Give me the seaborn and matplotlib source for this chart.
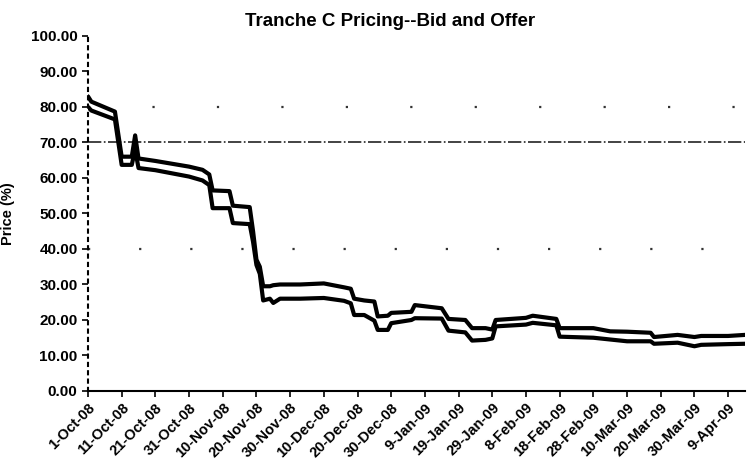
import matplotlib
matplotlib.use('Agg')
import matplotlib.pyplot as plt
import seaborn as sns
import pandas as pd

# data
dates = [
    "2008-10-01", "2008-10-02", "2008-10-09", "2008-10-11", "2008-10-14", "2008-10-15",
    "2008-10-16", "2008-10-21", "2008-10-26", "2008-10-31", "2008-11-04", "2008-11-06",
    "2008-11-07", "2008-11-12", "2008-11-13", "2008-11-18", "2008-11-19", "2008-11-20",
    "2008-11-21", "2008-11-22", "2008-11-24", "2008-11-25", "2008-11-27", "2008-12-03",
    "2008-12-10", "2008-12-16", "2008-12-18", "2008-12-19", "2008-12-22", "2008-12-25",
    "2008-12-26", "2008-12-29", "2008-12-30", "2009-01-05", "2009-01-06", "2009-01-14",
    "2009-01-16", "2009-01-21", "2009-01-23", "2009-01-27", "2009-01-29", "2009-01-30",
    "2009-02-08", "2009-02-10", "2009-02-17", "2009-02-18", "2009-02-28", "2009-03-05",
    "2009-03-10", "2009-03-17", "2009-03-18", "2009-03-25", "2009-03-30", "2009-04-01",
    "2009-04-09", "2009-04-14",
]
offer = [
    83.0, 81.5, 78.7, 66.0, 66.0, 72.0,
    65.5, 64.8, 64.0, 63.2, 62.3, 61.0,
    56.5, 56.3, 52.2, 51.8, 45.0, 37.0,
    35.0, 29.5, 29.5, 29.8, 30.0, 30.0,
    30.3, 29.2, 28.8, 26.0, 25.5, 25.2,
    21.0, 21.2, 22.0, 22.3, 24.2, 23.3,
    20.3, 20.0, 17.7, 17.7, 17.3, 20.0,
    20.6, 21.2, 20.3, 17.7, 17.7, 16.8,
    16.7, 16.4, 15.2, 15.8, 15.2, 15.5,
    15.5, 15.8,
]
bid = [
    80.0, 79.0, 76.5, 63.7, 63.7, 68.0,
    62.8, 62.2, 61.3, 60.4, 59.3, 58.0,
    51.5, 51.5, 47.3, 47.0, 42.0, 35.5,
    33.0, 25.5, 26.0, 24.8, 26.0, 26.0,
    26.2, 25.4, 24.7, 21.4, 21.4, 19.8,
    17.2, 17.2, 19.1, 20.0, 20.5, 20.4,
    17.0, 16.5, 14.2, 14.4, 14.8, 18.2,
    18.7, 19.2, 18.5, 15.3, 15.0, 14.5,
    14.0, 14.0, 13.3, 13.6, 12.6, 13.0,
    13.2, 13.3,
]
y_ticks = [0, 10, 20, 30, 40, 50, 60, 70, 80, 90, 100]

df = pd.DataFrame({"Date": pd.to_datetime(dates), "Offer": offer, "Bid": bid})

sns.set_style("white")
plt.rcParams['font.family'] = ['Liberation Sans', 'DejaVu Sans']
plt.rcParams['font.weight'] = 'bold'
for key in ['text.color', 'axes.labelcolor', 'xtick.color', 'ytick.color']:
    plt.rcParams[key] = 'black'

fig, ax = plt.subplots(figsize=(7.5, 4.73), dpi=100)
fig.subplots_adjust(left=0.1173, right=0.9933, bottom=0.1734, top=0.9239)

# faint fax-style reference lines
ax.axhline(70, color='#222222', lw=1.2, ls=(0, (8, 1.5, 1, 1.5)), zorder=1)
ax.axhline(80, color='#333333', lw=1.6, ls=(0, (1, 28)), zorder=1)
ax.axhline(40, color='#333333', lw=1.6, ls=(0, (1, 22)), zorder=1)

sns.lineplot(data=df, x="Date", y="Offer", ax=ax, color='black', lw=3.0, zorder=3)
sns.lineplot(data=df, x="Date", y="Bid", ax=ax, color='black', lw=3.0, zorder=3)

ax.set_ylim(0, 100)
ax.set_yticks(y_ticks)
ax.set_yticklabels([f"{v:.2f}" for v in y_ticks], fontsize=11, fontweight='bold')

x_ticks = pd.date_range("2008-10-01", "2009-04-09", freq="10D")
ax.set_xlim(pd.Timestamp("2008-10-01"), pd.Timestamp("2009-04-14"))
ax.set_xticks(x_ticks)
ax.set_xticklabels([f"{d.day}-{d:%b-%y}" for d in x_ticks], rotation=45,
                   ha='right', rotation_mode='anchor', fontsize=10.5, fontweight='bold')

ax.set_xlabel("")
ax.set_ylabel("Price (%)", fontsize=10.5, fontweight='bold')
ax.yaxis.set_label_coords(-0.111, 0.5)
ax.set_title("Tranche C Pricing--Bid and Offer", fontsize=13.5, fontweight='bold',
             x=0.46, pad=7)

ax.tick_params(axis='both', which='both', direction='out', length=4, width=1.2,
               color='black', bottom=True, left=True)
ax.tick_params(axis='x', pad=3)

for side in ['top', 'right']:
    ax.spines[side].set_visible(False)
ax.spines['left'].set_linestyle((0, (1.5, 2.5)))
ax.spines['left'].set_linewidth(1.5)
ax.spines['left'].set_color('black')
ax.spines['bottom'].set_linewidth(1.5)
ax.spines['bottom'].set_color('black')

fig.savefig("out.png", dpi=100)
